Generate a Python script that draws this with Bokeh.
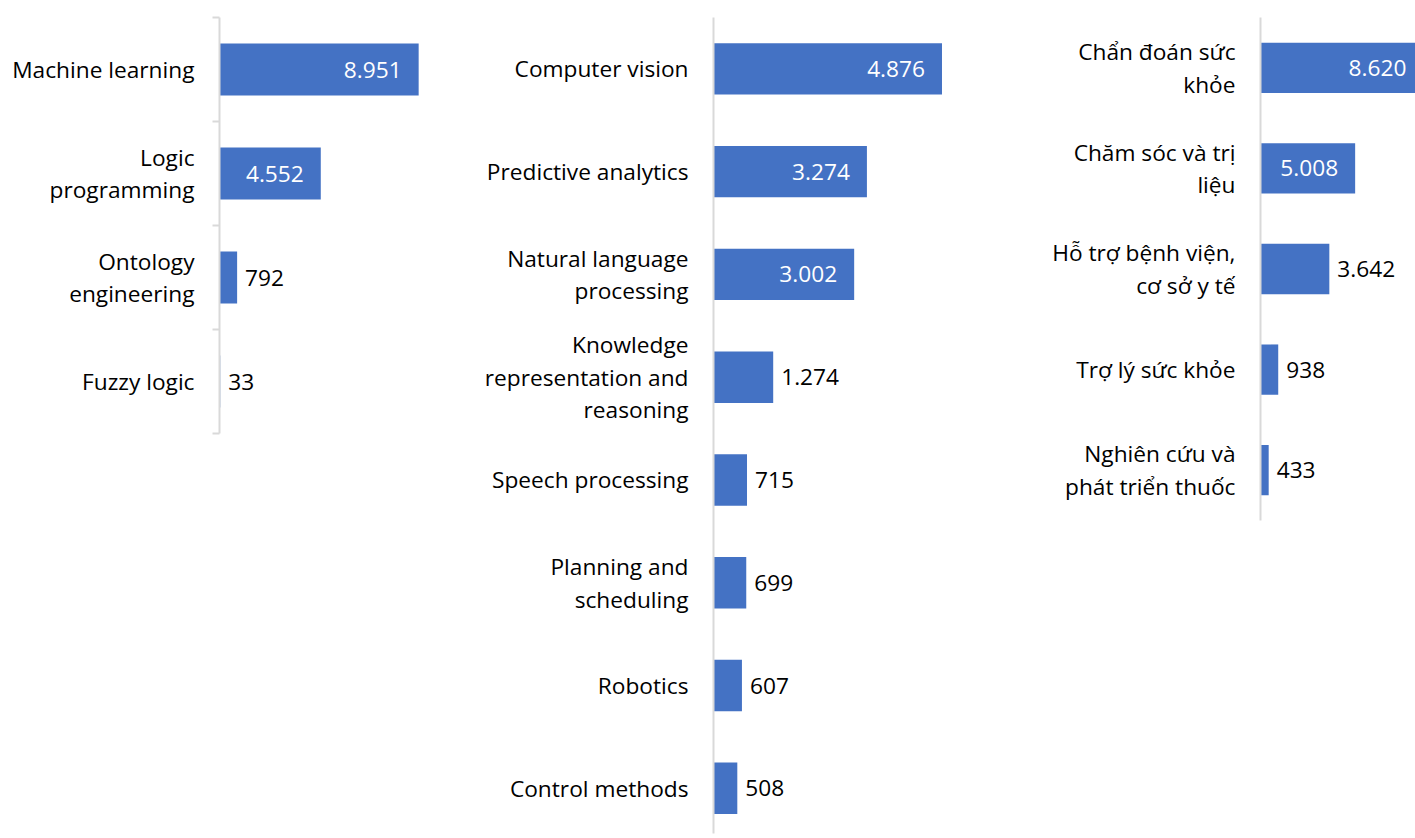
import numpy as np
from bokeh.plotting import figure
from bokeh.models import ColumnDataSource, LabelSet, Range1d, FixedTicker
from bokeh.layouts import row
from bokeh.core.properties import value
from bokeh.embed import file_html
from bokeh.resources import INLINE

# ---------------- data ----------------
tech_labels = ["Machine learning", "Logic\nprogramming", "Ontology\nengineering", "Fuzzy logic"]
tech_values = [8951, 4552, 792, 33]

app_labels = ["Computer vision", "Predictive analytics", "Natural language\nprocessing",
              "Knowledge\nrepresentation and\nreasoning", "Speech processing",
              "Planning and\nscheduling", "Robotics", "Control methods"]
app_values = [4876, 3274, 3002, 1274, 715, 699, 607, 508]

health_labels = ["Chẩn đoán sức\nkhỏe", "Chăm sóc và trị\nliệu", "Hỗ trợ bệnh viện,\ncơ sở y tế",
                 "Trợ lý sức khỏe", "Nghiên cứu và\nphát triển thuốc"]
health_values = [8620, 5008, 3642, 938, 433]

FONT = "Open Sans"
FS = "22.7px"
BAR = "#4472C4"
AXIS = "#D9D9D9"
TOP = 17


def fmt(v):
    return f"{v:,}".replace(",", ".")


def panel(labels, values, width, border_left, frame_h, band_px, px_per_unit,
          height, boundary_ticks=False):
    n = len(values)
    idx = list(range(n))
    frame_w = width - border_left
    x_end = frame_w / px_per_unit
    y_bottom = -0.5 + frame_h / band_px
    p = figure(width=width, height=height, output_backend="svg", toolbar_location=None,
               x_range=Range1d(0, x_end), y_range=Range1d(y_bottom, -0.5),
               x_axis_location=None, min_border_left=border_left, min_border_right=0,
               min_border_top=TOP, min_border_bottom=height - TOP - frame_h)
    p.outline_line_color = None
    p.xgrid.visible = False
    p.ygrid.visible = False
    p.background_fill_color = None
    p.border_fill_color = None

    p.hbar(y=idx, left=0, right=values, height=0.5, color=BAR, line_color=None)

    ax = p.yaxis[0]
    standoff = 25
    if boundary_ticks:
        ax.ticker = FixedTicker(ticks=idx, minor_ticks=list(np.arange(n + 1) - 0.5))
        ax.minor_tick_line_color = AXIS
        ax.minor_tick_line_width = 2
        ax.minor_tick_out = 7
        ax.minor_tick_in = 0
        standoff -= 7
    else:
        ax.ticker = FixedTicker(ticks=idx)
        ax.minor_tick_line_color = None
    ax.major_label_overrides = {i: l for i, l in enumerate(labels)}
    ax.major_tick_line_color = None
    ax.major_tick_out = 0
    ax.major_tick_in = 0
    ax.axis_line_color = AXIS
    ax.axis_line_width = 2
    ax.major_label_standoff = standoff
    ax.major_label_text_font = FONT
    ax.major_label_text_font_size = FS
    ax.major_label_text_color = "#000000"
    ax.major_label_text_line_height = 1.05

    vmax = max(values)
    ins = [i for i in idx if values[i] >= 0.5 * vmax]
    out = [i for i in idx if values[i] < 0.5 * vmax]
    src_in = ColumnDataSource(dict(y=ins, x=[values[i] for i in ins], t=[fmt(values[i]) for i in ins]))
    src_out = ColumnDataSource(dict(y=out, x=[values[i] for i in out], t=[fmt(values[i]) for i in out]))
    p.add_layout(LabelSet(x="x", y="y", text="t", source=src_in, x_offset=-17,
                          text_align="right", text_baseline="middle", text_color="white",
                          text_font=value(FONT), text_font_size=value(FS)))
    p.add_layout(LabelSet(x="x", y="y", text="t", source=src_out, x_offset=8,
                          text_align="left", text_baseline="middle", text_color="#000000",
                          text_font=value(FONT), text_font_size=value(FS)))
    return p


p1 = panel(tech_labels, tech_values, width=459, border_left=219, frame_h=416, band_px=104,
           px_per_unit=0.02225, height=438, boundary_ticks=True)
p2 = panel(app_labels, app_values, width=541, border_left=254, frame_h=821, band_px=103.4,
           px_per_unit=0.04686, height=838)
p3 = panel(health_labels, health_values, width=415, border_left=260, frame_h=503, band_px=100.6,
           px_per_unit=0.0189, height=525)

layout = row(p1, p2, p3, spacing=0)

open("out.html", "w").write(file_html(layout, INLINE))
